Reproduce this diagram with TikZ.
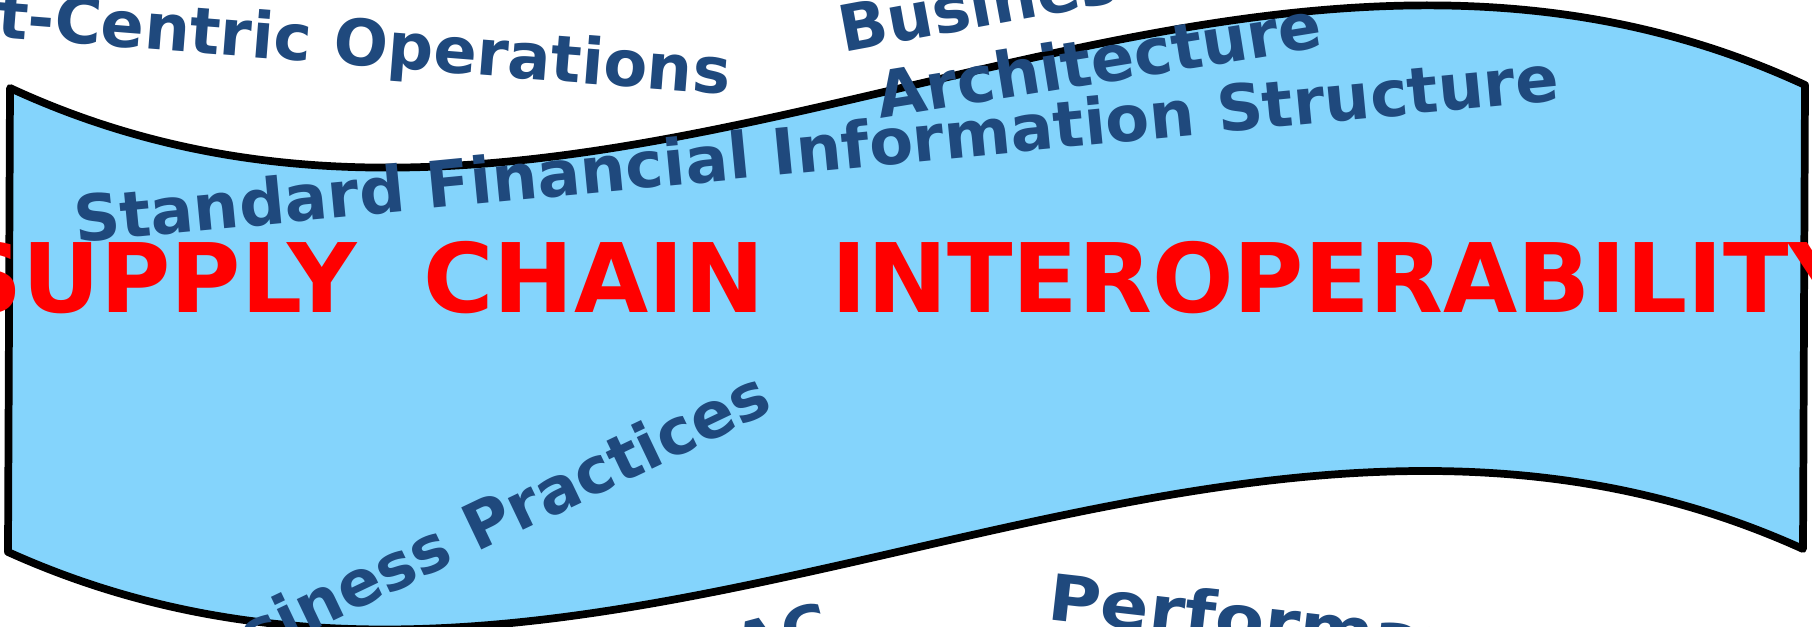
\documentclass[tikz,border=0pt]{standalone}
\usepackage{fontspec}
\setmainfont{DejaVu Sans}
\definecolor{waveblue}{RGB}{132,212,252}
\definecolor{textblue}{RGB}{31,73,125}
\definecolor{titlered}{RGB}{255,0,0}

\begin{document}
\begin{tikzpicture}[
    banner/.style={draw=black,line width=2.2pt,line join=round,fill=waveblue},
    bluetext/.style={text=textblue,inner sep=0pt,font=\bfseries\fontsize{18.2}{20}\selectfont},
    titletext/.style={text=titlered,inner sep=0pt,font=\bfseries\fontsize{27.3}{30}\selectfont}
  ]
    \useasboundingbox (0,0) rectangle (18.12,6.27);
    \clip (0,0) rectangle (18.12,6.27);
    % Wave banner
    \draw[banner] (0.10,5.39) .. controls (6.08,2.62) and (12.07,8.19) .. (18.05,5.42)
        -- (18.03,0.78) .. controls (12.05,3.49) and (6.06,-1.95) .. (0.08,0.75) -- cycle;
    % Words round the banner
    \node[bluetext,anchor=base east,rotate=-4.5] (ncops) at (7.30,5.32) {t-Centric Operations};
    \node[bluetext,anchor=base west,rotate=10.5] (busi) at (8.43,5.74) {Business};
    \node[bluetext,anchor=base west,rotate=9.2] (arch) at (8.80,5.08) {Architecture};
    \node[bluetext,anchor=base west,rotate=5.5] (sfis) at (0.76,3.84) {Standard Financial Information Structure};
    \node[bluetext,anchor=base east,rotate=25.5] (bprac) at (7.76,2.17) {Business Practices};
    \node[bluetext,anchor=base west,rotate=15] (ac) at (7.40,-0.45) {AC};
    \node[bluetext,anchor=base west,rotate=-6.5] (perf) at (10.46,0.08) {\scalebox{1.12}[1]{Performance}};
    % Title
    \node[titletext,anchor=base] (title) at (9.06,3.14) {SUPPLY~~CHAIN~~INTEROPERABILITY};
\end{tikzpicture}
\end{document}
